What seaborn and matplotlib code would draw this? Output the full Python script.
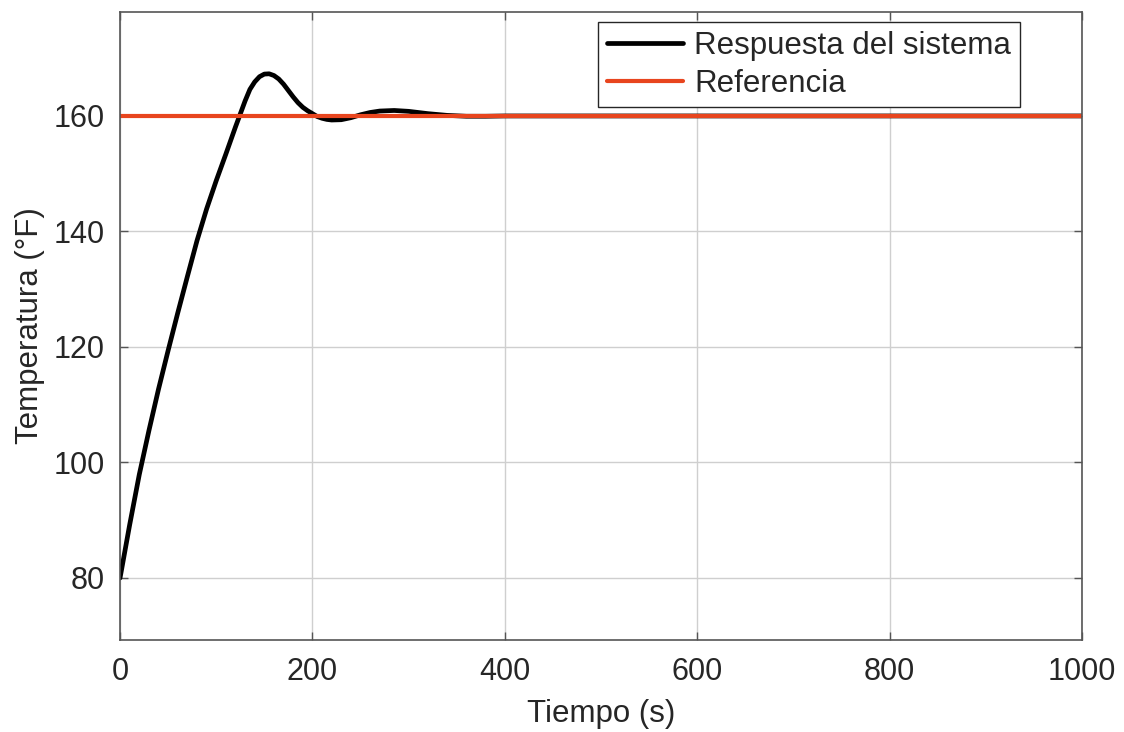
import matplotlib
matplotlib.use("Agg")
import matplotlib.pyplot as plt
import seaborn as sns
import pandas as pd

tiempo = [0, 10, 20, 30, 40, 50, 60, 70, 80, 90, 100, 110, 120, 130, 135, 140, 145, 150,
          155, 160, 165, 170, 175, 180, 185, 190, 195, 200, 205, 210, 215, 220, 230, 240,
          250, 260, 270, 285, 300, 320, 340, 360, 380, 400, 1000]
respuesta = [80, 89.2, 97.9, 105.5, 112.7, 119.4, 125.9, 132.2, 138.4, 143.9, 148.8,
             153.4, 158.1, 162.6, 164.6, 165.9, 166.8, 167.25, 167.3, 167.0, 166.4, 165.5,
             164.4, 163.3, 162.3, 161.5, 160.9, 160.4, 159.9, 159.6, 159.4, 159.3, 159.35,
             159.7, 160.2, 160.6, 160.85, 160.95, 160.8, 160.4, 160.1, 159.95, 159.95, 160, 160]
ref_t = [0, 1000]
ref_v = [160, 160]

sns.set_theme(style="white")
plt.rcParams['font.family'] = ['Liberation Sans', 'DejaVu Sans']

fig, ax = plt.subplots(figsize=(11.24, 7.32), dpi=100)
fig.subplots_adjust(left=0.1068, right=0.9626, top=0.9836, bottom=0.1257)

df = pd.DataFrame({"t": tiempo, "v": respuesta})
dr = pd.DataFrame({"t": ref_t, "v": ref_v})
sns.lineplot(data=df, x="t", y="v", ax=ax, color="black", linewidth=3.4,
             label="Respuesta del sistema")
sns.lineplot(data=dr, x="t", y="v", ax=ax, color="#e8451e", linewidth=3.0,
             label="Referencia")
ax.lines[0].set_solid_joinstyle("round")

ax.set_xlim(0, 1000)
ax.set_ylim(69.26, 178)
ax.set_xticks([0, 200, 400, 600, 800, 1000])
ax.set_yticks([80, 100, 120, 140, 160])
ax.grid(True, color="#cfcfcf", linewidth=1.0)
ax.set_axisbelow(True)
for s in ax.spines.values():
    s.set_color("#555555")
    s.set_linewidth(1.2)
ax.tick_params(axis="both", which="both", direction="in", length=6, width=1,
               colors="#555555", labelsize=22, top=True, right=True,
               bottom=True, left=True, labelcolor="#262626")
ax.tick_params(axis="x", pad=12)
ax.tick_params(axis="y", pad=11)
ax.set_xlabel("Tiempo (s)", fontsize=22.5, color="#262626", labelpad=9)
ax.set_ylabel("Temperatura (°F)", fontsize=22.5, color="#262626", labelpad=6)

leg = ax.legend(loc="upper right", fontsize=22.5, frameon=True, fancybox=False,
                edgecolor="#262626", framealpha=1, borderpad=0.28,
                handlelength=2.45, handletextpad=0.35, labelspacing=0.25,
                borderaxespad=0, bbox_to_anchor=(0.9356, 0.984))
leg.get_frame().set_linewidth(1.0)

fig.savefig("out.png", dpi=100)
